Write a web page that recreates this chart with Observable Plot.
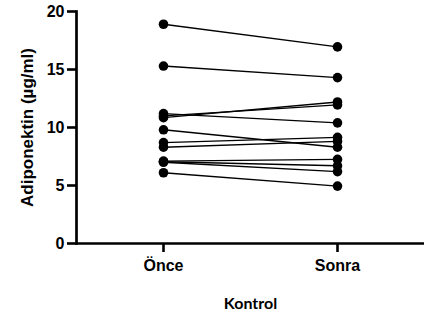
<!DOCTYPE html>
<html>
<head>
<meta charset="utf-8">
<script src="https://cdn.jsdelivr.net/npm/d3@7"></script>
<script src="https://cdn.jsdelivr.net/npm/@observablehq/plot@0.6"></script>
<style>
  html, body { margin: 0; padding: 0; background: #fff; }
  svg { display: block; }
</style>
</head>
<body>
<div id="chart"></div>
<script>
const timepoints = ["Önce", "Sonra"];
const subjects = ["S1","S2","S3","S4","S5","S6","S7","S8","S9","S10","S11","S12"];
const onceValues  = [18.9, 15.3, 11.2, 11.0, 10.85, 9.8, 8.7, 8.3, 7.1, 7.05, 7.0, 6.1];
const sonraValues = [16.95, 14.3, 10.4, 11.95, 12.2, 8.3, 9.15, 8.8, 7.25, 6.7, 6.2, 4.95];
const yTicks = [0, 5, 10, 15, 20];
const yLabel = "Adiponektin (µg/ml)";
const xLabel = "Kontrol";

const data = subjects.flatMap((s, i) => [
  {subject: s, time: timepoints[0], value: onceValues[i]},
  {subject: s, time: timepoints[1], value: sonraValues[i]}
]);

const font = "'Liberation Sans', Arial, sans-serif";

const chart = Plot.plot({
  width: 428,
  height: 323,
  marginLeft: 76,
  marginRight: 4,
  marginTop: 11,
  marginBottom: 80,
  style: {fontFamily: font, color: "#000", background: "#fff"},
  x: {type: "point", domain: timepoints, padding: 0.5, axis: null},
  y: {domain: [0, 20], axis: null},
  marks: [
    Plot.frame({anchor: "left", stroke: "#000", strokeWidth: 2.7}),
    Plot.ruleY([0], {stroke: "#000", strokeWidth: 2.7}),
    Plot.axisY({ticks: yTicks, tickSize: 9, tickPadding: 3, stroke: "#000", strokeWidth: 2.6, fontSize: 16, fontWeight: "bold", label: null}),
    Plot.axisX({tickSize: 9, tickPadding: 7, stroke: "#000", strokeWidth: 2.6, fontSize: 16, fontWeight: "bold", label: null}),
    Plot.line(data, {x: "time", y: "value", z: "subject", stroke: "#000", strokeWidth: 1.4}),
    Plot.dot(data, {x: "time", y: "value", r: 4.8, fill: "#000", stroke: "none"}),
    Plot.text([yLabel], {text: d => d, frameAnchor: "left", rotate: -90, dx: -49, fontSize: 17, fontWeight: "bold", textAnchor: "middle", lineAnchor: "middle"}),
    Plot.text([xLabel], {text: d => d, frameAnchor: "bottom", dy: 60, fontSize: 16, fontWeight: "bold", fontFamily: "Lato, sans-serif", textAnchor: "middle", lineAnchor: "middle"})
  ]
});
d3.select(chart)
  .selectAll('g[aria-label="y-axis tick"], g[aria-label="x-axis tick"]')
  .attr("stroke-width", 2.6)
  .selectAll("path")
  .attr("stroke-width", 2.6);
document.getElementById("chart").appendChild(chart);
</script>
</body>
</html>
